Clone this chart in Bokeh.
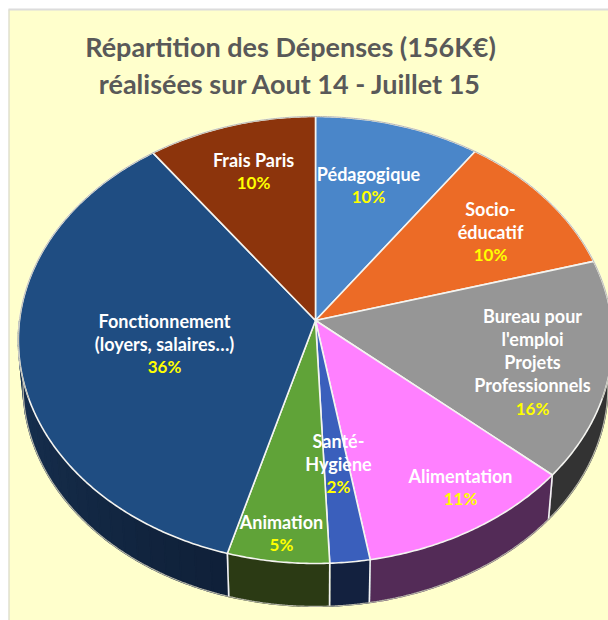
import math
from bokeh.plotting import figure
from bokeh.models import Range1d
from bokeh.core.properties import value
from bokeh.embed import file_html
from bokeh.resources import INLINE

# --- data, clockwise from twelve o'clock
categories = ["Pédagogique", "Socio-éducatif", "Bureau pour l'emploi Projets Professionnels",
              "Alimentation", "Santé-Hygiène", "Animation",
              "Fonctionnement (loyers, salaires…)", "Frais Paris"]
shares = [9.8, 10.8, 15.8, 10.9, 2.0, 5.1, 35.6, 10.0]
percent_labels = ["10%", "10%", "16%", "11%", "2%", "5%", "36%", "10%"]
label_lines = [["Pédagogique"], ["Socio-", "éducatif"],
               ["Bureau pour", "l'emploi", "Projets", "Professionnels"],
               ["Alimentation"], ["Santé-", "Hygiène"], ["Animation"],
               ["Fonctionnement", "(loyers, salaires…)"], ["Frais Paris"]]
title_lines = ["Répartition des Dépenses (156K€)", "réalisées sur Aout 14 - Juillet 15"]

# --- styles
top_colors = ["#4a86c9", "#ec6b26", "#969696", "#ff80ff", "#3a5fbc", "#60a338", "#1f4d82", "#8c340c"]
wall_from = ["#2a4a70", "#6f3210", "#333333", "#532b57", "#13213f", "#2b3a14", "#1e4068", "#40180a"]
wall_to = ["#2a4a70", "#6f3210", "#333333", "#532b57", "#13213f", "#2b3a14", "#0f2038", "#40180a"]
label_cx = [368, 490, 532, 460, 338, 281, 164, 253]
label_top = [173, 208, 315, 475, 440, 521, 320, 159]
LINE_STEP = 23.2
FONT = "Lato"

# --- perspective disc
AX, AY = 315.0, 320.0
BX, BY, K = 296.0, 221.8, 0.0872
WALL_SX, WALL_SY, WALL_DROP = 0.984, 0.985, 46.5


def rim(deg):
    t = math.radians(deg)
    u, v = math.sin(t), -math.cos(t)
    d = 1 - K * v
    return BX * u / d, BY * v / d


def upper(deg):
    dx, dy = rim(deg)
    return AX + dx, AY + dy


def lower(deg):
    dx, dy = rim(deg)
    return AX + WALL_SX * dx, AY + WALL_SY * dy + WALL_DROP


def mix(c1, c2, f):
    a = [int(c1[i:i + 2], 16) for i in (1, 3, 5)]
    b = [int(c2[i:i + 2], 16) for i in (1, 3, 5)]
    return "#%02x%02x%02x" % tuple(round(x + (y - x) * f) for x, y in zip(a, b))


def arc(start, end, fn):
    n = max(2, int(abs(end - start) * 2))
    pts = [fn(start + (end - start) * i / n) for i in range(n + 1)]
    return [q[0] for q in pts], [q[1] for q in pts]


total = sum(shares)
edges = [0.0]
for s in shares:
    edges.append(edges[-1] + s * 360.0 / total)

p = figure(width=608, height=620, output_backend="svg", toolbar_location=None,
           x_range=Range1d(0, 608), y_range=Range1d(620, 0),
           min_border=0, background_fill_color="#ffffff", border_fill_color="#ffffff",
           outline_line_color=None)
p.axis.visible = False
p.grid.visible = False

# chart area: pale yellow panel with a light grey edge on its left and top
p.quad(left=[8], right=[608], top=[9], bottom=[620], fill_color="#ffffcc", line_color=None)
p.line([8.5, 8.5], [620, 9], line_color="#d0d0d0", line_width=1)
p.line([8, 608], [9, 9], line_color="#dcdcdc", line_width=2)

# side walls (only the front half shows)
WALL_START, WALL_END = 90.0, 270.0
for i in range(len(shares)):
    a0, a1 = max(edges[i], WALL_START), min(edges[i + 1], WALL_END)
    if a1 <= a0:
        continue
    graded = wall_from[i] != wall_to[i]
    n = max(1, int((a1 - a0) / 3)) if graded else 1
    xs, ys, cols = [], [], []
    for j in range(n):
        s0 = a0 + (a1 - a0) * j / n
        s1 = a0 + (a1 - a0) * (j + 1) / n
        ux, uy = arc(s0, s1, upper)
        lx, ly = arc(s1, s0, lower)
        xs.append(ux + lx)
        ys.append(uy + ly)
        f = (edges[i + 1] - (s0 + s1) / 2) / (edges[i + 1] - edges[i])
        cols.append(mix(wall_from[i], wall_to[i], f))
    # draw from the far end so each band overlaps the previous one, no seams
    p.patches(xs[::-1], ys[::-1], fill_color=cols[::-1], line_color=cols[::-1], line_width=1.5)
    for e in (edges[i], edges[i + 1]):
        if WALL_START < e < WALL_END:
            ux, uy = upper(e)
            lx, ly = lower(e)
            p.line([ux, lx], [uy, ly], line_color="#f2f2f2", line_width=1.6)

# wall's outer silhouette
sx, sy = arc(WALL_START, WALL_END, lower)
p.line(sx, sy, line_color="#b5b5a8", line_width=1.2)

# top faces
for i in range(len(shares)):
    rx, ry = arc(edges[i], edges[i + 1], upper)
    p.patch([AX] + rx + [AX], [AY] + ry + [AY], fill_color=top_colors[i],
            line_color="#f4f4f0", line_width=1.6, line_join="round")

# thin grey rim along the back of the disc
bx, by = arc(WALL_END - 360 - 20, WALL_START + 20, upper)
p.line(bx, by, line_color="#b9b9ac", line_width=1.0)

# title
p.text([290, 290], [46, 83], text=title_lines, text_color="#595959",
       text_font=value(FONT), text_font_style="bold", text_font_size="27px",
       text_align="center", text_baseline="middle")

# slice labels
tx, ty, tt, px, py, pt = [], [], [], [], [], []
for i, lines in enumerate(label_lines):
    for k, line in enumerate(lines):
        tx.append(label_cx[i])
        ty.append(label_top[i] + k * LINE_STEP)
        tt.append(line)
    px.append(label_cx[i])
    py.append(label_top[i] + len(lines) * LINE_STEP)
    pt.append(percent_labels[i])
p.text(tx, ty, text=tt, text_color="#ffffff", text_font=value(FONT), text_font_style="bold",
       text_font_size="18px", text_align="center", text_baseline="middle")
p.text(px, py, text=pt, text_color="#ffff00", text_font=value(FONT), text_font_style="bold",
       text_font_size="17px", text_align="center", text_baseline="middle")

open("out.html", "w").write(file_html(p, INLINE))
